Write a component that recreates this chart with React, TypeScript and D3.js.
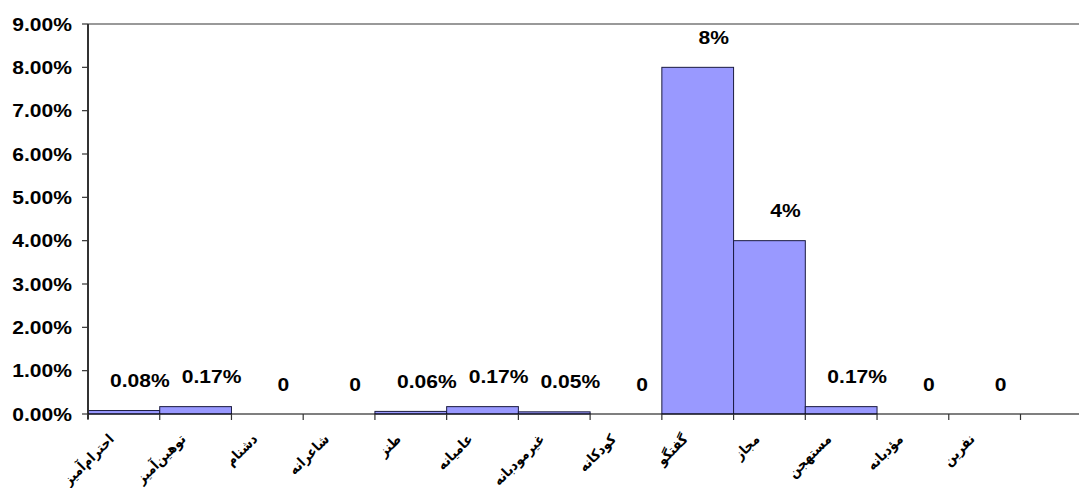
import React from 'react';
import * as d3 from 'd3';

const categories = ['احترام‌آمیز', 'توهین‌آمیز', 'دشنام', 'شاعرانه', 'طنز', 'عامیانه', 'غیرمودبانه', 'کودکانه', 'گفتگو', 'مجاز', 'مستهجن', 'مؤدبانه', 'نفرین'];
const values = [0.08, 0.17, 0, 0, 0.06, 0.17, 0.05, 0, 8, 4, 0.17, 0, 0];
const valueLabels = ['0.08%', '0.17%', '0', '0', '0.06%', '0.17%', '0.05%', '0', '8%', '4%', '0.17%', '0', '0'];
const yTicks = [0, 1, 2, 3, 4, 5, 6, 7, 8, 9];

const W = 1079;
const H = 488;
const left = 88;
const top = 24;
const bottom = 414;
const bandEnd = 1020.5;
const numFont = '"Liberation Sans", Arial, sans-serif';
const sx = 1.17;

export default function App() {
  const x = d3.scaleBand<string>().domain(categories).range([left, bandEnd]).padding(0);
  const y = d3.scaleLinear().domain([0, 9]).range([bottom, top]);
  const bw = x.bandwidth();
  const tickXs = categories.map((c) => x(c) as number).concat([bandEnd]);

  return (
    <svg width={W} height={H} style={{ position: 'absolute', left: 0, top: 0, background: '#fff' }}>
      <line x1={left} x2={W} y1={y(9)} y2={y(9)} stroke="#999" strokeWidth={2} />
      {values.map((v, i) => (
        <rect
          key={i}
          x={x(categories[i]) as number}
          y={y(v)}
          width={bw}
          height={bottom - y(v)}
          fill="#9999ff"
          stroke="#1a1a40"
          strokeWidth={1}
        />
      ))}
      <line x1={left} x2={left} y1={top} y2={bottom + 5} stroke="#333" strokeWidth={2} />
      {yTicks.map((t) => (
        <g key={t}>
          <line x1={left - 6} x2={left} y1={y(t)} y2={y(t)} stroke="#333" strokeWidth={1.2} />
          <text
            transform={`translate(72,${y(t) + 6.5}) scale(${sx},1)`}
            textAnchor="end"
            fontFamily={numFont}
            fontWeight="bold"
            fontSize={18}
            fill="#000"
          >
            {t.toFixed(2) + '%'}
          </text>
        </g>
      ))}
      <line x1={left} x2={W} y1={bottom} y2={bottom} stroke="#000" strokeWidth={1.2} />
      {tickXs.map((tx, i) => (
        <line key={i} x1={tx} x2={tx} y1={bottom} y2={bottom + 6} stroke="#333" strokeWidth={1.2} />
      ))}
      {categories.map((c) => {
        const cx = (x(c) as number) + bw / 2;
        return (
          <text
            key={c}
            transform={`translate(${cx - 9},${bottom + 26}) rotate(-45)`}
            textAnchor="end"
            fontFamily='"DejaVu Sans Condensed", "DejaVu Sans", sans-serif'
            fontWeight="bold"
            fontSize={14}
            fill="#000"
          >
            {c}
          </text>
        );
      })}
      {values.map((v, i) => {
        const cx = (x(categories[i]) as number) + bw / 2 + 16;
        return (
          <text
            key={i}
            transform={`translate(${cx},${y(v) - 30 + 6.5}) scale(${sx},1)`}
            textAnchor="middle"
            fontFamily={numFont}
            fontWeight="bold"
            fontSize={18}
            fill="#000"
          >
            {valueLabels[i]}
          </text>
        );
      })}
    </svg>
  );
}
